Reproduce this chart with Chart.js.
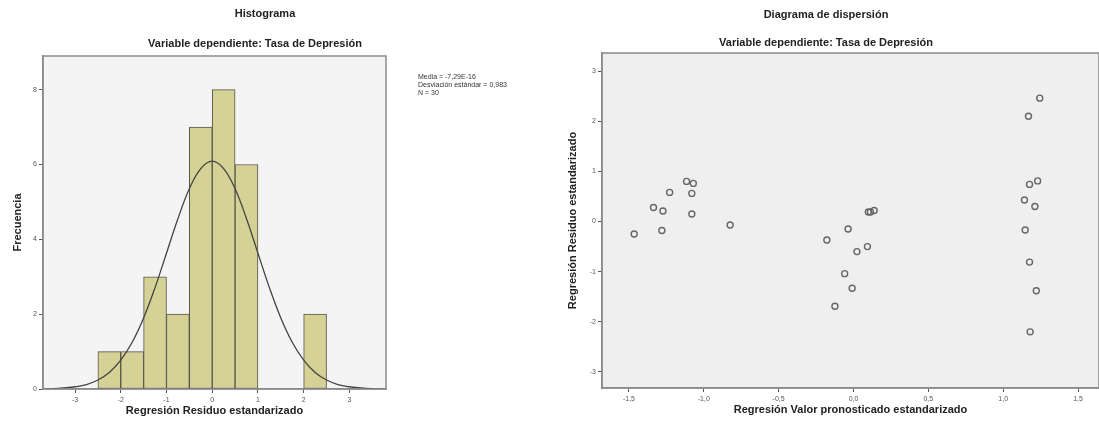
<!DOCTYPE html>
<html>
<head>
<meta charset="utf-8">
<script src="https://cdn.jsdelivr.net/npm/chart.js@4/dist/chart.umd.min.js"></script>
<style>
  html, body { margin: 0; padding: 0; background: #ffffff; }
  body { width: 1099px; height: 433px; position: relative; overflow: hidden; font-family: "Liberation Sans", Arial, sans-serif; }
  .box { position: absolute; top: 0; height: 433px; }
  .t { position: absolute; font-weight: bold; font-size: 11px; color: #222; white-space: nowrap; transform: translateX(-50%); }
  .note { position: absolute; font-size: 7px; line-height: 8px; color: #333; white-space: nowrap; }
</style>
</head>
<body>
<div class="box" style="left:0;width:560px;"><canvas id="hist" width="560" height="433"></canvas></div>
<div class="box" style="left:560px;width:539px;"><canvas id="scat" width="539" height="433"></canvas></div>

<div class="t" style="left:265px;top:7px;">Histograma</div>
<div class="t" style="left:255px;top:37px;">Variable dependiente: Tasa de Depresión</div>
<div class="t" style="left:826px;top:8px;">Diagrama de dispersión</div>
<div class="t" style="left:826px;top:36px;">Variable dependiente: Tasa de Depresión</div>
<div class="note" style="left:418px;top:73px;">Media = -7,29E-16<br>Desviación estándar = 0,983<br>N = 30</div>

<script>
// ---------- Histogram data ----------
const binCenters = [-2.25, -1.75, -1.25, -0.75, -0.25, 0.25, 0.75, 1.25, 1.75, 2.25];
const binCounts  = [1, 1, 3, 2, 7, 8, 6, 0, 0, 2];
const curveX = [-3.75, -3.5, -3.25, -3.0, -2.75, -2.5, -2.25, -2.0, -1.75, -1.5, -1.25, -1.0, -0.75, -0.5, -0.25, 0.0,
                0.25, 0.5, 0.75, 1.0, 1.25, 1.5, 1.75, 2.0, 2.25, 2.5, 2.75, 3.0, 3.25, 3.5, 3.75];
const curveY = [0.00, 0.01, 0.03, 0.06, 0.12, 0.24, 0.44, 0.77, 1.25, 1.90, 2.71, 3.63, 4.55, 5.35, 5.89, 6.09,
                5.89, 5.35, 4.55, 3.63, 2.71, 1.90, 1.25, 0.77, 0.44, 0.24, 0.12, 0.06, 0.03, 0.01, 0.00];
const histXTicks = [-3, -2, -1, 0, 1, 2, 3];
const histYTicks = [0, 2, 4, 6, 8];

// ---------- Scatter data ----------
const predicted = [-1.465, -1.336, -1.273, -1.28, -1.228, -1.115, -1.07, -1.08, -1.08, -0.824,
                   -0.178, -0.036, -0.124, -0.059, -0.009, 0.023, 0.093, 0.099, 0.113, 0.138,
                   1.244, 1.169, 1.23, 1.176, 1.142, 1.212, 1.147, 1.176, 1.221, 1.18];
const residual  = [-0.25, 0.28, 0.21, -0.18, 0.58, 0.80, 0.76, 0.56, 0.15, -0.07,
                   -0.37, -0.15, -1.69, -1.04, -1.33, -0.60, -0.50, 0.19, 0.19, 0.22,
                   2.46, 2.10, 0.81, 0.74, 0.43, 0.30, -0.17, -0.81, -1.38, -2.20];
const scatXTicks = [-1.5, -1.0, -0.5, 0.0, 0.5, 1.0, 1.5];
const scatYTicks = [-3, -2, -1, 0, 1, 2, 3];

const fmtComma = v => v.toFixed(1).replace('.', ',');

const frame = {
  id: 'frame',
  beforeDraw(chart, args, opts) {
    const a = chart.chartArea, c = chart.ctx;
    c.save();
    c.fillStyle = opts.bg;
    c.fillRect(a.left, a.top, a.right - a.left, a.bottom - a.top);
    c.restore();
  },
  afterDatasetsDraw(chart, args, opts) {
    const a = chart.chartArea, c = chart.ctx;
    c.save();
    c.strokeStyle = '#8a8a8a';
    c.lineWidth = 1.5;
    c.strokeRect(a.left, a.top, a.right - a.left, a.bottom - a.top);
    c.restore();
  }
};

const tickFont = { family: 'Liberation Sans', size: 7 };
const titleFont = { family: 'Liberation Sans', size: 11, weight: 'bold' };
const fixX = h => ax => { ax.height = h; ax.paddingLeft = 0; ax.paddingRight = 0; };
const fixY = w => ax => { ax.width = w; ax.paddingTop = 0; ax.paddingBottom = 0; };

new Chart(document.getElementById('hist'), {
  type: 'bar',
  data: {
    datasets: [
      {
        type: 'line',
        data: curveX.map((x, i) => ({ x: x, y: curveY[i] })),
        borderColor: '#444444',
        borderWidth: 1.3,
        pointRadius: 0,
        tension: 0.4,
        fill: false,
        order: 0
      },
      {
        type: 'bar',
        data: binCenters.map((x, i) => ({ x: x, y: binCounts[i] })),
        backgroundColor: '#d6d194',
        borderColor: '#55554a',
        borderWidth: 1,
        borderSkipped: false,
        barPercentage: 1.0,
        categoryPercentage: 1.0,
        order: 1
      }
    ]
  },
  options: {
    responsive: false,
    animation: false,
    layout: { autoPadding: false, padding: { left: 0, top: 56, right: 174, bottom: 0 } },
    plugins: { legend: { display: false }, tooltip: { enabled: false }, frame: { bg: '#f4f4f4' } },
    scales: {
      x: {
        type: 'linear', min: -3.7, max: 3.8, offset: false,
        afterBuildTicks: ax => { ax.ticks = histXTicks.map(v => ({ value: v })); },
        afterFit: fixX(44),
        grid: { offset: false, drawOnChartArea: false, drawTicks: true, tickLength: 4, color: '#555' },
        border: { display: true, color: '#8a8a8a', width: 1.5 },
        ticks: { font: tickFont, color: '#555', padding: 3, maxRotation: 0 },
        title: { display: true, text: 'Regresión Residuo estandarizado', font: titleFont, color: '#222', padding: { top: 4, bottom: 15 } }
      },
      y: {
        type: 'linear', min: 0, max: 8.9,
        afterBuildTicks: ax => { ax.ticks = histYTicks.map(v => ({ value: v })); },
        afterFit: fixY(43),
        grid: { drawOnChartArea: false, drawTicks: true, tickLength: 4, color: '#555' },
        border: { display: true, color: '#8a8a8a', width: 1.5 },
        ticks: { font: tickFont, color: '#555', padding: 2 },
        title: { display: true, text: 'Frecuencia', font: titleFont, color: '#222', padding: { top: 11, bottom: 6 } }
      }
    }
  },
  plugins: [frame]
});

new Chart(document.getElementById('scat'), {
  type: 'scatter',
  data: {
    datasets: [{
      data: predicted.map((x, i) => ({ x: x, y: residual[i] })),
      pointStyle: 'circle',
      pointRadius: 3,
      borderColor: '#666666',
      borderWidth: 1.4,
      backgroundColor: 'rgba(0,0,0,0)'
    }]
  },
  options: {
    responsive: false,
    animation: false,
    layout: { autoPadding: false, padding: { left: 0, top: 53, right: 0, bottom: 0 } },
    plugins: { legend: { display: false }, tooltip: { enabled: false }, frame: { bg: '#efefef' } },
    scales: {
      x: {
        type: 'linear', min: -1.68, max: 1.64,
        afterBuildTicks: ax => { ax.ticks = scatXTicks.map(v => ({ value: v })); },
        afterFit: fixX(45),
        grid: { drawOnChartArea: false, drawTicks: true, tickLength: 4, color: '#555' },
        border: { display: true, color: '#8a8a8a', width: 1.5 },
        ticks: { font: tickFont, color: '#555', padding: 3, maxRotation: 0, callback: v => fmtComma(v) },
        title: { display: true, text: 'Regresión Valor pronosticado estandarizado', font: titleFont, color: '#222', padding: { top: 4, bottom: 16 } }
      },
      y: {
        type: 'linear', min: -3.32, max: 3.36,
        afterBuildTicks: ax => { ax.ticks = scatYTicks.map(v => ({ value: v })); },
        afterFit: fixY(42),
        grid: { drawOnChartArea: false, drawTicks: true, tickLength: 4, color: '#555' },
        border: { display: true, color: '#8a8a8a', width: 1.5 },
        ticks: { font: tickFont, color: '#555', padding: 2 },
        title: { display: true, text: 'Regresión Residuo estandarizado', font: titleFont, color: '#222', padding: { top: 6, bottom: 6 } }
      }
    }
  },
  plugins: [frame]
});
</script>
</body>
</html>
